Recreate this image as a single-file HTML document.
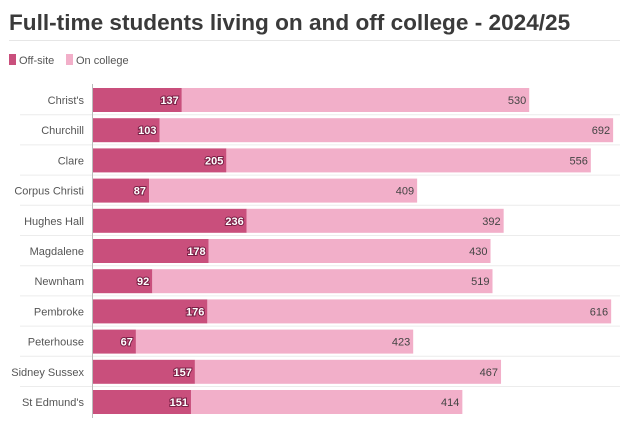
<!DOCTYPE html>
<html><head><meta charset="utf-8"><style>
body{margin:0;background:#fff;font-family:"Liberation Sans",sans-serif;}
svg text{font-family:"Liberation Sans",sans-serif;}
</style></head><body>
<svg width="626" height="431">
<text x="9" y="30" font-size="22.6" font-weight="bold" fill="#3a3a3a">Full-time students living on and off college - 2024/25</text>
<line x1="9" y1="40.5" x2="620" y2="40.5" stroke="#e6e6e6"/>
<g>
<rect x="9" y="54" width="7" height="11" fill="#c94f7c"/>
<text x="19" y="64" font-size="11" fill="#555">Off-site</text>
<rect x="66" y="54" width="7" height="11" fill="#f2afc9"/>
<text x="76" y="64" font-size="11" fill="#555">On college</text>
</g>
<g id="plot"></g>
</svg>
<script>
const categories=["Christ's","Churchill","Clare","Corpus Christi","Hughes Hall","Magdalene","Newnham","Pembroke","Peterhouse","Sidney Sussex","St Edmund's"];
const offSite=[137,103,205,87,236,178,92,176,67,157,151];
const onCollege=[530,692,556,409,392,430,519,616,423,467,414];
const x0=92,k=0.6555,top0=88,step=30.2,bh=24;
const xs=v=>x0+v*k;
const ns="http://www.w3.org/2000/svg";
const g=document.getElementById('plot');
function mk(t,a){const e=document.createElementNS(ns,t);for(const n in a)e.setAttribute(n,a[n]);g.appendChild(e);return e;}
categories.forEach((c,i)=>{
 const y=top0+i*step;
 if(i>0){const l=mk('line',{x1:20,x2:620,y1:y-3.5,y2:y-3.5,stroke:'#ececec'});
 
 }
 const lab=mk('text',{x:84,y:y+16,'text-anchor':'end','font-size':11,fill:'#555'});lab.textContent=c;
 
 
 const a=mk('rect',{x:x0,y:y,width:xs(offSite[i])-x0,height:bh,fill:'#c94f7c'});
 
 
 const b=mk('rect',{x:xs(offSite[i]),y:y,width:onCollege[i]*k,height:bh,fill:'#f2afc9'});
 
 
 const t1=mk('text',{x:xs(offSite[i])-3,y:y+16,'text-anchor':'end','font-size':11,'font-weight':'bold',fill:'#fff',stroke:'#7a1f45','stroke-width':2,'paint-order':'stroke'});t1.textContent=offSite[i];
 
 
 const t2=mk('text',{x:xs(offSite[i]+onCollege[i])-3,y:y+16,'text-anchor':'end','font-size':11,fill:'#444'});t2.textContent=onCollege[i];
 
 
});
const ax=mk('line',{x1:x0+0.5,x2:x0+0.5,y1:84,y2:418,stroke:'#bbb'});


</script>
</body></html>
